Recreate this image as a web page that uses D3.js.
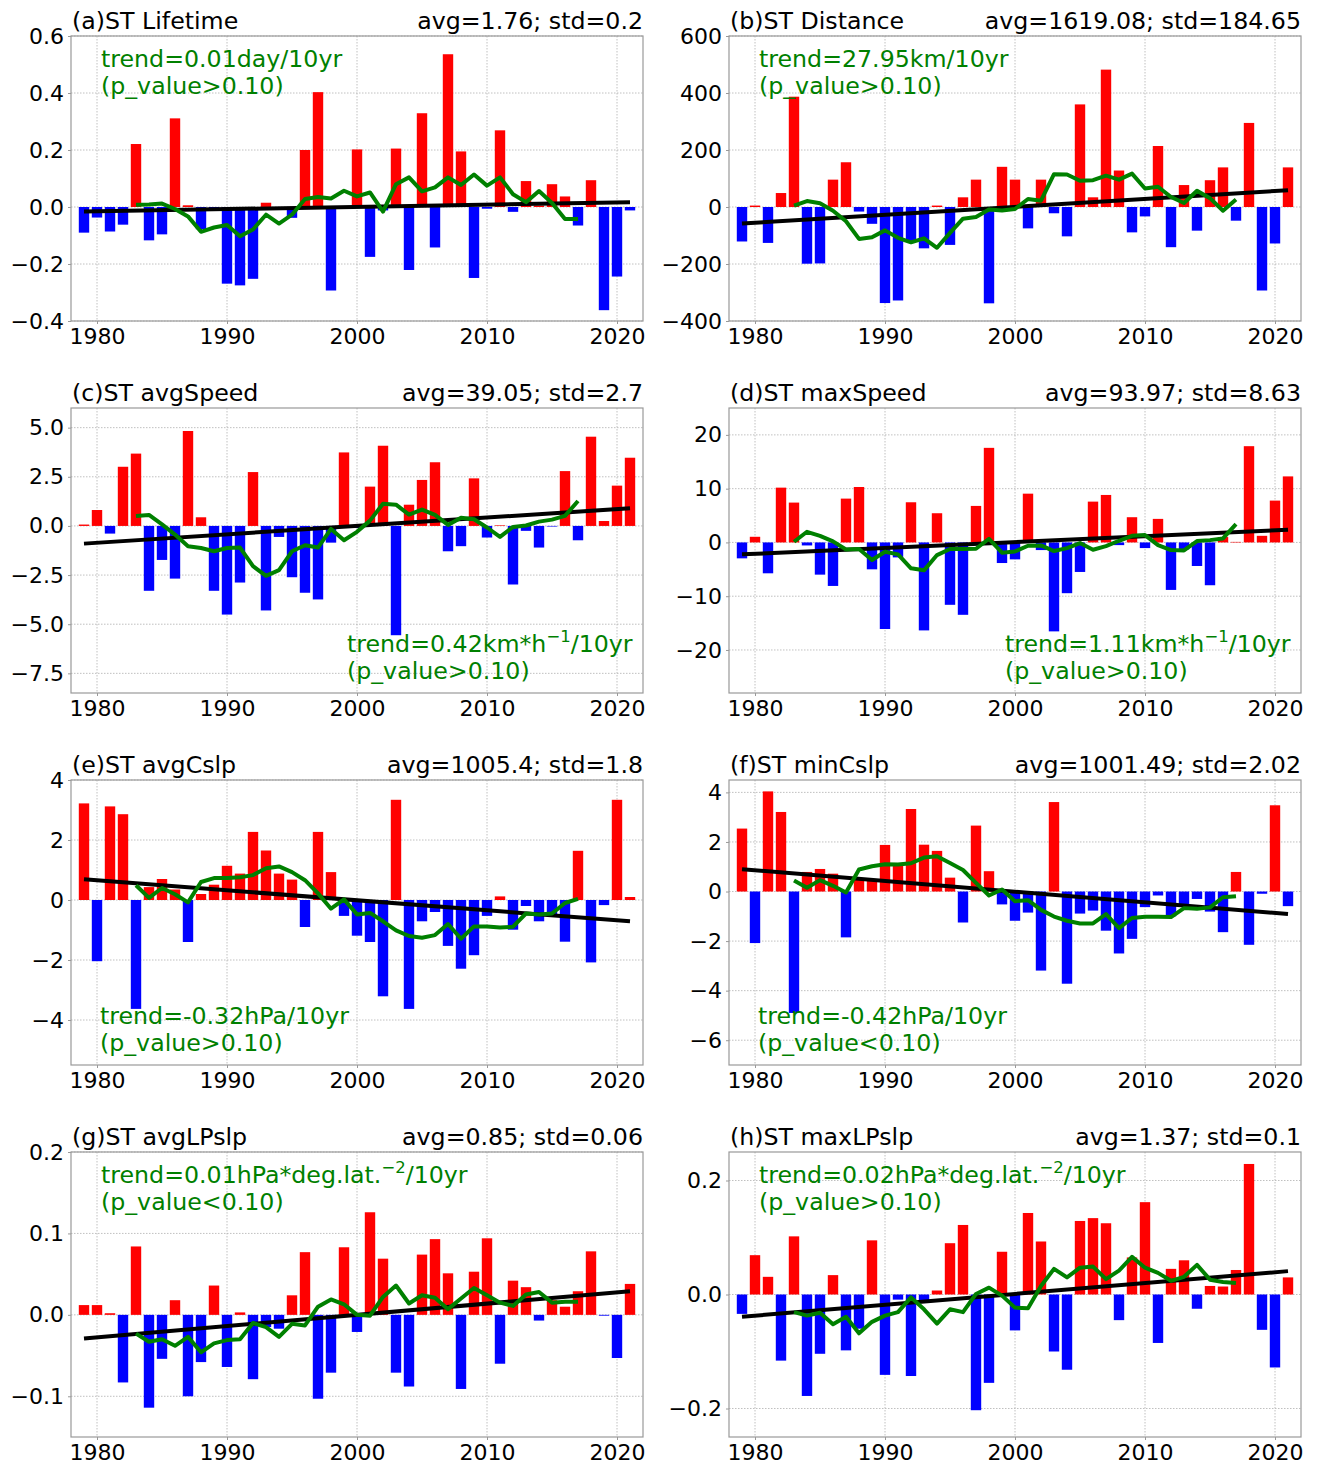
<!DOCTYPE html>
<html>
<head>
<meta charset="utf-8">
<script src="https://cdn.jsdelivr.net/npm/d3@7"></script>
<style>
  body { margin: 0; background: #fff; }
  text { font-family: "DejaVu Sans", sans-serif; }
</style>
</head>
<body>
<svg id="fig" width="1318" height="1463"></svg>
<script>
// years of the bars and of the 9-yr running mean
var years = d3.range(1979, 2022);
var smoothYears = d3.range(1983, 2018);

// (a) lifetime anomaly
var lifeBars = [-0.09,-0.037,-0.086,-0.062,0.221,-0.117,-0.096,0.311,0.006,-0.078,-0.01,-0.269,-0.275,-0.252,0.015,-0.01,-0.038,0.2,0.403,-0.293,-0.005,0.202,-0.175,-0.012,0.205,-0.221,0.329,-0.142,0.536,0.195,-0.249,-0.006,0.269,-0.017,0.091,0.005,0.08,0.037,-0.065,0.094,-0.362,-0.244,-0.012];
var lifeSmooth = [0.008,0.009,0.012,-0.007,-0.033,-0.087,-0.072,-0.063,-0.103,-0.079,-0.027,-0.058,-0.027,0.028,0.035,0.03,0.057,0.037,0.051,-0.016,0.08,0.104,0.055,0.069,0.104,0.077,0.114,0.075,0.104,0.045,0.017,0.056,0.014,-0.042,-0.042];
var lifeTrend = [-0.016, 0.017];

// (b) distance anomaly
var distBars = [-121,5,-126,49,387,-199,-198,96,157,-16,-59,-337,-328,-120,-145,5,-133,34,96,-338,141,96,-75,96,-22,-103,360,34,482,128,-89,-33,214,-141,77,-83,94,139,-48,295,-293,-128,139];
var distSmooth = [5,21,13,-13,-50,-112,-106,-82,-108,-124,-110,-143,-91,-41,-35,-9,-12,-7,28,22,115,114,92,94,110,96,117,65,71,35,14,57,31,-13,26];
var distTrend = [-58, 59];

// (c) average speed anomaly
var avgSpdBars = [0.07,0.81,-0.39,3.01,3.68,-3.3,-1.73,-2.68,4.83,0.44,-3.3,-4.51,-2.88,2.74,-4.3,-0.56,-2.61,-3.4,-3.74,-0.85,3.74,-0.1,2.0,4.08,-5.56,1.08,2.34,3.24,-1.29,-1.03,2.42,-0.59,0.03,-2.98,-0.25,-1.1,-0.03,2.79,-0.73,4.54,0.25,2.05,3.47];
var avgSpdSmooth = [0.51,0.56,0.08,-0.44,-1.03,-1.12,-1.29,-1.12,-1.1,-2.05,-2.54,-2.25,-1.29,-0.98,-1.1,-0.15,-0.73,-0.3,0.27,1.13,1.08,0.58,0.83,0.56,0.05,0.42,0.34,-0.08,-0.56,-0.05,0.02,0.22,0.32,0.51,1.27];
var avgSpdTrend = [-0.9, 0.9];

// (d) max speed anomaly
var maxSpdBars = [-2.96,1.05,-5.74,10.19,7.41,-0.56,-5.99,-8.09,8.15,10.31,-5.0,-16.1,-2.78,7.47,-16.36,5.43,-11.6,-13.46,6.79,17.59,-3.83,-3.15,9.07,-1.42,-16.54,-9.44,-5.49,7.59,8.83,-0.5,4.69,-1.05,4.38,-8.83,-1.3,-4.38,-7.96,1.0,0.1,17.9,1.23,7.78,12.28];
var maxSpdSmooth = [0.12,1.98,1.23,0.19,-1.3,-1.23,-3.27,-1.73,-2.22,-4.81,-5.19,-2.35,-1.23,-1.23,-1.17,0.68,-1.91,-1.67,-0.62,-0.56,-1.6,-1.05,-0.12,-1.36,-0.68,0.31,1.23,1.36,-0.49,-1.42,-1.48,0.25,0.43,0.74,3.4];
var maxSpdTrend = [-2.22, 2.35];

// (e) average central slp anomaly
var avgCslpBars = [3.22,-2.04,3.12,2.86,-3.63,0.43,0.7,0.35,-1.4,0.2,0.51,1.14,0.88,2.27,1.65,0.88,0.68,-0.9,2.27,0.93,-0.53,-1.19,-1.4,-3.21,3.34,-3.63,-0.71,-0.4,-1.53,-2.29,-1.84,-0.53,0.12,-0.99,-0.2,-0.71,-0.5,-1.39,1.64,-2.08,-0.17,3.34,0.1];
var avgCslpSmooth = [0.49,0.07,0.4,0.19,-0.08,0.6,0.73,0.73,0.76,0.83,1.06,1.12,0.93,0.66,0.22,-0.29,0.02,-0.48,-0.43,-0.71,-1.01,-1.2,-1.26,-1.17,-0.8,-1.29,-0.88,-0.88,-0.92,-0.89,-0.45,-0.48,-0.45,-0.1,0.04];
var avgCslpTrend = [0.69, -0.71];

// (f) minimum central slp anomaly
var minCslpBars = [2.54,-2.08,4.04,3.21,-4.9,0.79,0.91,0.72,-1.85,0.5,0.5,1.88,1.05,3.33,1.89,1.64,0.56,-1.25,2.66,0.82,-0.52,-1.18,-0.85,-3.19,3.61,-3.72,-0.89,-0.77,-1.58,-2.5,-1.91,-0.63,-0.16,-1.0,-0.6,-0.3,-0.81,-1.64,0.79,-2.15,-0.09,3.48,-0.59];
var minCslpSmooth = [0.44,0.15,0.46,0.23,-0.04,0.89,1.02,1.1,1.09,1.14,1.37,1.42,1.15,0.87,0.35,-0.16,0.08,-0.39,-0.35,-0.74,-1.01,-1.18,-1.29,-1.29,-0.91,-1.48,-1.07,-1.02,-1.02,-1.03,-0.67,-0.7,-0.64,-0.23,-0.19];
var minCslpTrend = [0.9, -0.91];

// (g) average laplacian of slp anomaly
var avgLPBars = [0.012,0.012,0.002,-0.083,0.084,-0.114,-0.054,0.018,-0.1,-0.058,0.036,-0.064,0.003,-0.079,-0.015,-0.017,0.024,0.077,-0.103,-0.071,0.083,-0.021,0.126,0.069,-0.071,-0.088,0.074,0.093,0.051,-0.091,0.053,0.094,-0.06,0.042,0.034,-0.007,0.018,0.01,0.029,0.078,-0.001,-0.053,0.038];
var avgLPSmooth = [-0.023,-0.033,-0.03,-0.038,-0.027,-0.046,-0.035,-0.031,-0.03,-0.01,-0.015,-0.027,-0.011,-0.013,0.01,0.019,0.013,0.0,-0.001,0.022,0.036,0.014,0.024,0.021,0.007,0.02,0.033,0.024,0.015,0.011,0.025,0.028,0.015,0.016,0.016];
var avgLPTrend = [-0.029, 0.029];

// (h) max laplacian of slp anomaly
var maxLPBars = [-0.034,0.069,0.031,-0.116,0.102,-0.178,-0.104,0.034,-0.098,-0.06,0.095,-0.141,-0.009,-0.143,-0.01,0.007,0.09,0.122,-0.203,-0.155,0.075,-0.063,0.143,0.093,-0.1,-0.132,0.129,0.134,0.125,-0.045,0.065,0.162,-0.085,0.045,0.06,-0.025,0.015,0.014,0.043,0.229,-0.062,-0.128,0.03];
var maxLPSmooth = [-0.031,-0.037,-0.032,-0.052,-0.039,-0.068,-0.048,-0.037,-0.031,-0.005,-0.026,-0.051,-0.026,-0.031,0.001,0.012,-0.002,-0.023,-0.024,0.015,0.045,0.03,0.047,0.049,0.027,0.042,0.066,0.047,0.038,0.024,0.031,0.052,0.026,0.022,0.02];
var maxLPTrend = [-0.039, 0.041];

var xTicks = [1980, 1990, 2000, 2010, 2020];

var panels = [
  {title: "(a)ST Lifetime", stats: "avg=1.76; std=0.2", bars: lifeBars, smooth: lifeSmooth, trend: lifeTrend,
   ylim: [-0.4, 0.6], yticks: [-0.4,-0.2,0,0.2,0.4,0.6], fmt: ".1f",
   note: [["trend=0.01day/10yr"], ["(p_value>0.10)"]], noteAt: "top"},
  {title: "(b)ST Distance", stats: "avg=1619.08; std=184.65", bars: distBars, smooth: distSmooth, trend: distTrend,
   ylim: [-400, 600], yticks: [-400,-200,0,200,400,600], fmt: "d",
   note: [["trend=27.95km/10yr"], ["(p_value>0.10)"]], noteAt: "top"},
  {title: "(c)ST avgSpeed", stats: "avg=39.05; std=2.7", bars: avgSpdBars, smooth: avgSpdSmooth, trend: avgSpdTrend,
   ylim: [-8.5, 6], yticks: [-7.5,-5,-2.5,0,2.5,5], fmt: ".1f",
   note: [["trend=0.42km*h", "\u22121", "/10yr"], ["(p_value>0.10)"]], noteAt: "right"},
  {title: "(d)ST maxSpeed", stats: "avg=93.97; std=8.63", bars: maxSpdBars, smooth: maxSpdSmooth, trend: maxSpdTrend,
   ylim: [-28, 25], yticks: [-20,-10,0,10,20], fmt: "d",
   note: [["trend=1.11km*h", "\u22121", "/10yr"], ["(p_value>0.10)"]], noteAt: "right"},
  {title: "(e)ST avgCslp", stats: "avg=1005.4; std=1.8", bars: avgCslpBars, smooth: avgCslpSmooth, trend: avgCslpTrend,
   ylim: [-5.5, 4], yticks: [-4,-2,0,2,4], fmt: "d",
   note: [["trend=-0.32hPa/10yr"], ["(p_value>0.10)"]], noteAt: "bottom"},
  {title: "(f)ST minCslp", stats: "avg=1001.49; std=2.02", bars: minCslpBars, smooth: minCslpSmooth, trend: minCslpTrend,
   ylim: [-7, 4.5], yticks: [-6,-4,-2,0,2,4], fmt: "d",
   note: [["trend=-0.42hPa/10yr"], ["(p_value<0.10)"]], noteAt: "bottom"},
  {title: "(g)ST avgLPslp", stats: "avg=0.85; std=0.06", bars: avgLPBars, smooth: avgLPSmooth, trend: avgLPTrend,
   ylim: [-0.15, 0.2], yticks: [-0.1,0,0.1,0.2], fmt: ".1f",
   note: [["trend=0.01hPa*deg.lat.", "\u22122", "/10yr"], ["(p_value<0.10)"]], noteAt: "top"},
  {title: "(h)ST maxLPslp", stats: "avg=1.37; std=0.1", bars: maxLPBars, smooth: maxLPSmooth, trend: maxLPTrend,
   ylim: [-0.25, 0.25], yticks: [-0.2,0,0.2], fmt: ".1f",
   note: [["trend=0.02hPa*deg.lat.", "\u22122", "/10yr"], ["(p_value>0.10)"]], noteAt: "top"}
];

var svg = d3.select("#fig");
var colX = [71, 729], rowY = [36, 408, 780, 1152];
var W = 572, H = 285, FS = 22, TFS = 23.7;

panels.forEach(function(p, i) {
  var left = colX[i % 2], top = rowY[Math.floor(i / 2)];
  var g = svg.append("g").attr("transform", "translate(" + left + "," + top + ")");

  var x = d3.scaleLinear().domain([1978, 2022]).range([0, W]);
  var y = d3.scaleLinear().domain(p.ylim).range([H, 0]);
  var fmt = d3.format(p.fmt);

  g.append("clipPath").attr("id", "clip" + i)
    .append("rect").attr("width", W).attr("height", H);

  // grid
  var grid = g.append("g").attr("stroke", "#b0b0b0").attr("stroke-width", 0.8)
    .attr("stroke-dasharray", "1.5,1.5");
  grid.selectAll(".gx").data(xTicks).enter().append("line")
    .attr("x1", d => x(d)).attr("x2", d => x(d)).attr("y1", 0).attr("y2", H);
  grid.selectAll(".gy").data(p.yticks).enter().append("line")
    .attr("x1", 0).attr("x2", W).attr("y1", d => y(d)).attr("y2", d => y(d));

  var plot = g.append("g").attr("clip-path", "url(#clip" + i + ")");

  // bars
  plot.selectAll("rect.bar").data(p.bars).enter().append("rect")
    .attr("class", "bar")
    .attr("x", (d, k) => x(years[k] - 0.4))
    .attr("width", x(1978.8) - x(1978))
    .attr("y", d => y(Math.max(d, 0)))
    .attr("height", d => Math.abs(y(d) - y(0)))
    .attr("fill", d => d >= 0 ? "#ff0000" : "#0000ff");

  // linear trend
  plot.append("path")
    .datum([[1979, p.trend[0]], [2021, p.trend[1]]])
    .attr("d", d3.line().x(d => x(d[0])).y(d => y(d[1])))
    .attr("stroke", "#000").attr("stroke-width", 4).attr("fill", "none");

  // running mean
  plot.append("path")
    .datum(p.smooth)
    .attr("d", d3.line().x((d, k) => x(smoothYears[k])).y(d => y(d)))
    .attr("stroke", "#008000").attr("stroke-width", 4).attr("fill", "none")
    .attr("stroke-linejoin", "round");

  // frame
  g.append("rect").attr("width", W).attr("height", H)
    .attr("fill", "none").attr("stroke", "#999").attr("stroke-width", 1.2);

  // axes
  var xa = g.append("g").attr("transform", "translate(0," + H + ")")
    .call(d3.axisBottom(x).tickValues(xTicks).tickFormat(d3.format("d")).tickSize(3).tickPadding(4));
  var ya = g.append("g")
    .call(d3.axisLeft(y).tickValues(p.yticks).tickFormat(fmt).tickSize(3).tickPadding(4));
  [xa, ya].forEach(function(a) {
    a.select(".domain").remove();
    a.selectAll("line").attr("stroke", "#999");
    a.selectAll("text").attr("font-size", FS).attr("fill", "#000")
      .attr("font-family", "DejaVu Sans, sans-serif");
  });

  // titles
  g.append("text").attr("x", 1).attr("y", -7).attr("font-size", TFS).text(p.title);
  g.append("text").attr("x", W).attr("y", -7).attr("font-size", TFS)
    .attr("text-anchor", "end").text(p.stats);

  // trend note
  var nx = 30, ny = 31;
  if (p.noteAt === "right") { nx = 276; ny = 244; }
  if (p.noteAt === "bottom") { nx = 29; ny = 244; }
  p.note.forEach(function(line, li) {
    var t = g.append("text").attr("x", nx).attr("y", ny + li * 27)
      .attr("font-size", TFS).attr("fill", "#008000");
    t.append("tspan").text(line[0]);
    if (line.length > 1) {
      t.append("tspan").attr("dy", -10).attr("font-size", 16.5).text(line[1]);
      t.append("tspan").attr("dy", 10).text(line[2]);
    }
  });
});
</script>
</body>
</html>
